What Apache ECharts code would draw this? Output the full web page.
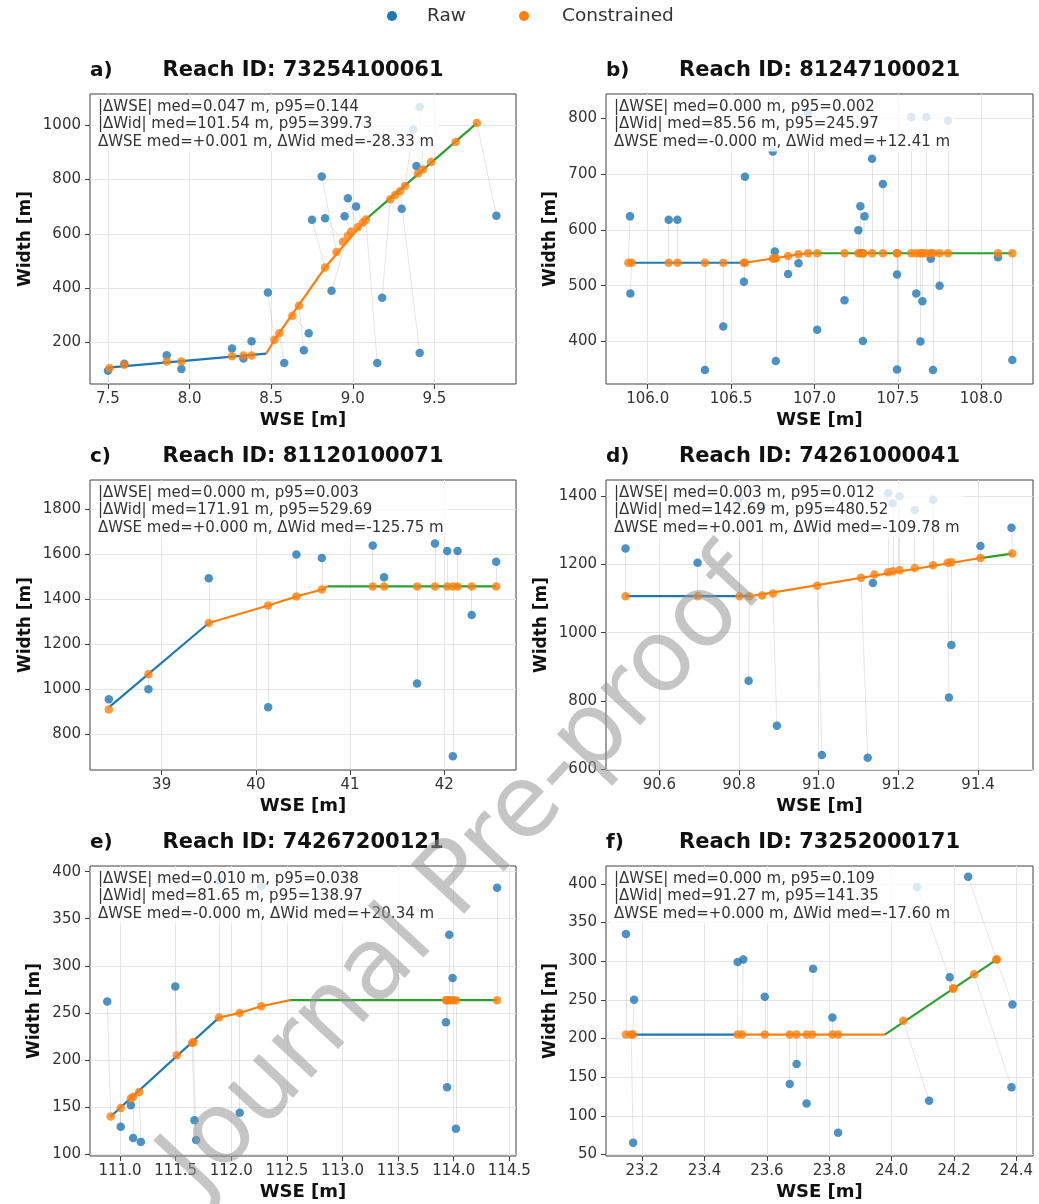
<!DOCTYPE html>
<html>
<head>
<meta charset="utf-8">
<script src="https://cdn.jsdelivr.net/npm/echarts@6/dist/echarts.min.js"></script>
<style>
html, body { margin: 0; padding: 0; background: #fff; }
#chart { width: 1039px; height: 1204px; }
</style>
</head>
<body>
<div id="chart"></div>
<script>
// ---- panel a : 73254100061 ----
var aRaw = [[7.50,96],[7.60,122],[7.86,153],[7.95,102],[8.26,178],[8.33,141],[8.38,204],[8.48,384],[8.58,124],[8.70,171],[8.73,234],[8.75,652],[8.81,811],[8.83,657],[8.87,390],[8.95,665],[8.97,731],[9.02,701],[9.15,124],[9.18,365],[9.30,692],[9.39,850],[9.41,161],[9.88,667],[9.41,1067],[9.37,984]];
var aCon = [[7.51,106],[7.60,118],[7.86,130],[7.95,130],[8.26,149],[8.33,152],[8.38,152],[8.52,210],[8.55,234],[8.67,335],[8.63,298],[8.83,476],[8.90,533],[8.94,571],[8.97,593],[8.99,608],[9.03,624],[9.06,641],[9.08,653],[9.23,727],[9.26,743],[9.40,822],[9.29,757],[9.76,1008],[9.43,837],[9.32,776],[9.48,865],[9.63,938]];
var aFit1 = [[7.50,107],[8.47,159]];
var aFit2 = [[8.47,159],[8.52,210],[8.83,476],[9.08,653]];
var aFit3 = [[9.08,653],[9.76,1008]];
var aXRange = [7.39, 10.0], aYRange = [47, 1115];
var aXTicks = [7.5, 8.0, 8.5, 9.0, 9.5], aYTicks = [200, 400, 600, 800, 1000];
var aStats = ['|ΔWSE| med=0.047 m, p95=0.144', '|ΔWid| med=101.54 m, p95=399.73', 'ΔWSE med=+0.001 m, ΔWid med=-28.33 m'];

// ---- panel b : 81247100021 ----
var bRaw = [[105.894,624],[105.896,486],[106.126,618],[106.178,618],[106.343,349],[106.453,427],[106.577,507],[106.583,695],[106.762,561],[106.768,365],[106.75,740],[106.842,521],[106.904,540],[107.016,421],[107.18,474],[107.263,599],[107.275,642],[107.30,624],[107.29,401],[107.345,727],[107.41,682],[107.495,520],[107.495,350],[107.61,486],[107.647,472],[107.635,400],[107.697,548],[107.71,349],[107.75,500],[108.10,551],[108.186,367],[107.58,802],[107.67,802],[106.962,810],[107.80,795]];
var bCon = [[105.884,541],[105.904,541],[106.126,541],[106.178,541],[106.343,541],[106.453,541],[106.577,541],[106.583,541],[106.762,549],[106.768,549],[106.75,548],[106.842,553],[106.904,556],[107.016,558],[107.18,558],[107.263,558],[107.275,558],[107.29,558],[107.29,558],[107.345,558],[107.41,558],[107.495,558],[107.495,558],[107.61,558],[107.647,558],[107.635,558],[107.697,558],[107.71,558],[107.75,558],[108.10,558],[108.186,558],[107.58,558],[107.67,558],[106.962,558],[107.80,558]];
var bFit1 = [[105.884,541],[106.58,541]];
var bFit2 = [[106.58,541],[106.762,549],[106.904,556],[106.97,558]];
var bFit3 = [[106.97,558],[108.186,558]];
var bXRange = [105.75, 108.31], bYRange = [324, 843];
var bXTicks = [106.0, 106.5, 107.0, 107.5, 108.0], bYTicks = [400, 500, 600, 700, 800];
var bStats = ['|ΔWSE| med=0.000 m, p95=0.002', '|ΔWid| med=85.56 m, p95=245.97', 'ΔWSE med=-0.000 m, ΔWid med=+12.41 m'];

// ---- panel c : 81120100071 ----
var cRaw = [[38.44,954],[38.86,999],[39.50,1493],[40.13,919],[40.43,1599],[40.70,1584],[41.24,1639],[41.36,1498],[41.71,1024],[41.90,1648],[42.03,1615],[42.14,1615],[42.29,1330],[42.55,1567],[42.09,700]];
var cCon = [[38.44,909],[38.86,1066],[39.50,1294],[40.13,1372],[40.43,1412],[40.70,1443],[41.24,1457],[41.36,1457],[41.71,1457],[41.90,1457],[42.03,1457],[42.14,1457],[42.29,1457],[42.55,1457],[42.09,1457]];
var cFit1 = [[38.45,921],[39.50,1294]];
var cFit2 = [[39.50,1294],[40.13,1372],[40.43,1412],[40.70,1443],[40.76,1457]];
var cFit3 = [[40.76,1457],[42.55,1457]];
var cXRange = [38.24, 42.76], cYRange = [639, 1931];
var cXTicks = [39, 40, 41, 42], cYTicks = [800, 1000, 1200, 1400, 1600, 1800];
var cStats = ['|ΔWSE| med=0.000 m, p95=0.003', '|ΔWid| med=171.91 m, p95=529.69', 'ΔWSE med=+0.000 m, ΔWid med=-125.75 m'];

// ---- panel d : 74261000041 ----
var dRaw = [[90.515,1247],[90.696,1205],[90.824,859],[90.895,727],[91.008,641],[91.123,633],[91.136,1146],[91.333,964],[91.327,810],[91.406,1254],[91.484,1308],[90.801,1395],[90.858,1370],[91.174,1409],[91.186,1380],[91.203,1400],[91.241,1360],[91.287,1390]];
var dCon = [[90.515,1107],[90.696,1107],[90.826,1107],[90.885,1115],[90.996,1138],[91.106,1161],[91.140,1171],[91.333,1207],[91.324,1205],[91.406,1219],[91.486,1232],[90.801,1107],[90.858,1109],[91.174,1177],[91.186,1180],[91.203,1183],[91.241,1190],[91.287,1198]];
var dFit1 = [[90.515,1107],[90.83,1107]];
var dFit2 = [[90.83,1107],[91.406,1219]];
var dFit3 = [[91.406,1219],[91.486,1232]];
var dXRange = [90.466, 91.538], dYRange = [597, 1448];
var dXTicks = [90.6, 90.8, 91.0, 91.2, 91.4], dYTicks = [600, 800, 1000, 1200, 1400];
var dStats = ['|ΔWSE| med=0.003 m, p95=0.012', '|ΔWid| med=142.69 m, p95=480.52', 'ΔWSE med=+0.001 m, ΔWid med=-109.78 m'];

// ---- panel e : 74267200121 ----
var eRaw = [[110.885,262],[111.006,129],[111.097,152],[111.118,117],[111.187,113],[111.497,278],[111.669,136],[111.684,115],[112.076,144],[113.96,333],[113.99,287],[113.93,240],[113.94,171],[114.02,127],[114.39,383],[111.889,390],[112.27,385]];
var eCon = [[110.916,140],[111.006,149],[111.097,159],[111.118,161],[111.172,166],[111.51,205],[111.648,218],[111.66,219],[112.076,250],[113.96,263.5],[113.99,263.5],[113.93,263.5],[113.94,263.5],[114.02,263.5],[114.39,263.5],[111.889,245],[112.27,257]];
var eFit1 = [[110.916,140],[111.889,245]];
var eFit2 = [[111.889,245],[112.076,250],[112.27,257],[112.53,263.5]];
var eFit3 = [[112.53,263.5],[114.39,263.5]];
var eXRange = [110.73, 114.56], eYRange = [98, 406];
var eXTicks = [111.0, 111.5, 112.0, 112.5, 113.0, 113.5, 114.0, 114.5], eYTicks = [100, 150, 200, 250, 300, 350, 400];
var eStats = ['|ΔWSE| med=0.010 m, p95=0.038', '|ΔWid| med=81.65 m, p95=138.97', 'ΔWSE med=-0.000 m, ΔWid med=+20.34 m'];

// ---- panel f : 73252000171 ----
var fRaw = [[23.148,335],[23.174,250],[23.171,65],[23.506,299],[23.524,302],[23.593,254],[23.673,141],[23.695,167],[23.727,116],[23.748,290],[23.81,227],[23.828,78],[24.12,119.5],[24.186,279],[24.387,244],[24.384,137],[24.081,396],[24.245,409]];
var fCon = [[23.148,205],[23.17,205],[23.165,205],[23.506,205],[23.52,205],[23.593,205],[23.673,205],[23.695,205],[23.727,205],[23.745,205],[23.81,205],[23.828,205],[24.037,223],[24.197,264.5],[24.336,302],[24.264,283],[24.197,264.5],[24.336,302]];
var fFit1 = [[23.148,205],[23.50,205]];
var fFit2 = [[23.50,205],[23.978,205]];
var fFit3 = [[23.978,205],[24.336,302]];
var fXRange = [23.084, 24.453], fYRange = [48, 423];
var fXTicks = [23.2, 23.4, 23.6, 23.8, 24.0, 24.2, 24.4], fYTicks = [50, 100, 150, 200, 250, 300, 350, 400];
var fStats = ['|ΔWSE| med=0.000 m, p95=0.109', '|ΔWid| med=91.27 m, p95=141.35', 'ΔWSE med=+0.000 m, ΔWid med=-17.60 m'];

var panels = [
  {tag: 'a)', id: '73254100061', raw: aRaw, con: aCon, fit: [aFit1, aFit2, aFit3], xr: aXRange, yr: aYRange, xt: aXTicks, yt: aYTicks, xd: 1, stats: aStats},
  {tag: 'b)', id: '81247100021', raw: bRaw, con: bCon, fit: [bFit1, bFit2, bFit3], xr: bXRange, yr: bYRange, xt: bXTicks, yt: bYTicks, xd: 1, stats: bStats},
  {tag: 'c)', id: '81120100071', raw: cRaw, con: cCon, fit: [cFit1, cFit2, cFit3], xr: cXRange, yr: cYRange, xt: cXTicks, yt: cYTicks, xd: 0, stats: cStats},
  {tag: 'd)', id: '74261000041', raw: dRaw, con: dCon, fit: [dFit1, dFit2, dFit3], xr: dXRange, yr: dYRange, xt: dXTicks, yt: dYTicks, xd: 1, stats: dStats},
  {tag: 'e)', id: '74267200121', raw: eRaw, con: eCon, fit: [eFit1, eFit2, eFit3], xr: eXRange, yr: eYRange, xt: eXTicks, yt: eYTicks, xd: 1, stats: eStats},
  {tag: 'f)', id: '73252000171', raw: fRaw, con: fCon, fit: [fFit1, fFit2, fFit3], xr: fXRange, yr: fYRange, xt: fXTicks, yt: fYTicks, xd: 1, stats: fStats}
];

var FONT = 'DejaVu Sans';
var BLUE = '#1f77b4', ORANGE = '#ff7f0e', GREEN = '#2ca02c';
var fitColors = [BLUE, ORANGE, GREEN];
var lefts = [90, 606], widths = [426, 427], tops = [94, 480, 866], H = 290;

var option = {
  animation: false,
  textStyle: {fontFamily: FONT},
  grid: [], xAxis: [], yAxis: [], series: [],
  graphic: [
    {type: 'circle', shape: {cx: 392, cy: 16, r: 5}, style: {fill: BLUE}, z: 100},
    {type: 'text', x: 427, y: 16, z: 100, style: {text: 'Raw', fontSize: 18.5, fontFamily: FONT, fill: '#333', verticalAlign: 'middle', textVerticalAlign: 'middle'}},
    {type: 'circle', shape: {cx: 524, cy: 16, r: 5}, style: {fill: ORANGE}, z: 100},
    {type: 'text', x: 562, y: 16, z: 100, style: {text: 'Constrained', fontSize: 18.5, fontFamily: FONT, fill: '#333', verticalAlign: 'middle', textVerticalAlign: 'middle'}}
  ]
};

panels.forEach(function (p, i) {
  var left = lefts[i % 2], w = widths[i % 2], top = tops[Math.floor(i / 2)];
  var maxLen = Math.max.apply(null, p.yt.map(function (v) { return String(v).length; }));

  option.grid.push({left: left, top: top, width: w, height: H, show: true, borderColor: '#404040', borderWidth: 1, backgroundColor: 'transparent'});

  option.xAxis.push({
    type: 'value', gridIndex: i, min: p.xr[0], max: p.xr[1],
    name: 'WSE [m]', nameLocation: 'middle', nameGap: 27,
    nameTextStyle: {fontSize: 18, fontWeight: 'bold', color: '#111'},
    axisLine: {show: false},
    axisTick: {show: true, length: 5, customValues: p.xt, lineStyle: {color: '#404040'}},
    axisLabel: {customValues: p.xt, fontSize: 15, color: '#333', margin: 8,
      formatter: function (v) { return v.toFixed(p.xd); }},
    splitLine: {show: true, lineStyle: {color: '#e6e6e6', width: 1}}
  });

  option.yAxis.push({
    type: 'value', gridIndex: i, min: p.yr[0], max: p.yr[1],
    name: 'Width [m]', nameLocation: 'middle', nameRotate: 90, nameGap: maxLen * 9.5 + 18,
    nameTextStyle: {fontSize: 17, fontWeight: 'bold', color: '#111'},
    axisLine: {show: false},
    axisTick: {show: true, length: 5, customValues: p.yt, lineStyle: {color: '#404040'}},
    axisLabel: {customValues: p.yt, fontSize: 15, color: '#333', margin: 9,
      formatter: function (v) { return String(Math.round(v)); }},
    splitLine: {show: true, lineStyle: {color: '#e6e6e6', width: 1}}
  });

  // raw -> constrained connectors
  var links = [];
  for (var k = 0; k < Math.min(p.raw.length, p.con.length); k++) {
    links.push({coords: [p.raw[k], p.con[k]]});
  }
  option.series.push({type: 'lines', coordinateSystem: 'cartesian2d', xAxisIndex: i, yAxisIndex: i,
    data: links, silent: true, z: 1,
    lineStyle: {color: 'rgba(140,140,140,0.45)', width: 1}});

  option.series.push({name: 'Raw', type: 'scatter', xAxisIndex: i, yAxisIndex: i, data: p.raw,
    symbolSize: 8.5, itemStyle: {color: BLUE}, z: 2});

  p.fit.forEach(function (seg, s) {
    option.series.push({type: 'line', xAxisIndex: i, yAxisIndex: i, data: seg, showSymbol: false, silent: true,
      lineStyle: {color: fitColors[s], width: 2.2}, itemStyle: {color: fitColors[s]}, z: 3});
  });

  option.series.push({name: 'Constrained', type: 'scatter', xAxisIndex: i, yAxisIndex: i, data: p.con,
    symbolSize: 8.5, itemStyle: {color: ORANGE}, z: 4});

  // titles
  option.graphic.push({type: 'text', x: left, y: top - 23, z: 100,
    style: {text: p.tag, fontSize: 20, fontWeight: 'bold', fontFamily: FONT, fill: '#111', verticalAlign: 'middle', textVerticalAlign: 'middle'}});
  option.graphic.push({type: 'text', x: left + w / 2, y: top - 23, z: 100,
    style: {text: 'Reach ID: ' + p.id, fontSize: 21, fontWeight: 'bold', fontFamily: FONT, fill: '#111',
      align: 'center', textAlign: 'center', verticalAlign: 'middle', textVerticalAlign: 'middle'}});

  // stats box
  option.graphic.push({type: 'text', x: left + 4, y: top + 3, z: 50,
    style: {text: p.stats.join('\n'), fontSize: 15, fontFamily: FONT, fill: '#333', lineHeight: 17.5,
      backgroundColor: 'rgba(255,255,255,0.8)', padding: [1, 4, 1, 4]}});
});

// watermark
option.graphic.push({type: 'text', x: 465, y: 875, rotation: 47 * Math.PI / 180, z: 200,
  style: {text: 'Journal Pre-proof', fontSize: 100, fontFamily: FONT, fill: 'rgba(150,150,150,0.55)',
    align: 'center', textAlign: 'center', verticalAlign: 'middle', textVerticalAlign: 'middle'}});

var myChart = echarts.init(document.getElementById('chart'));
myChart.setOption(option);
</script>
</body>
</html>
